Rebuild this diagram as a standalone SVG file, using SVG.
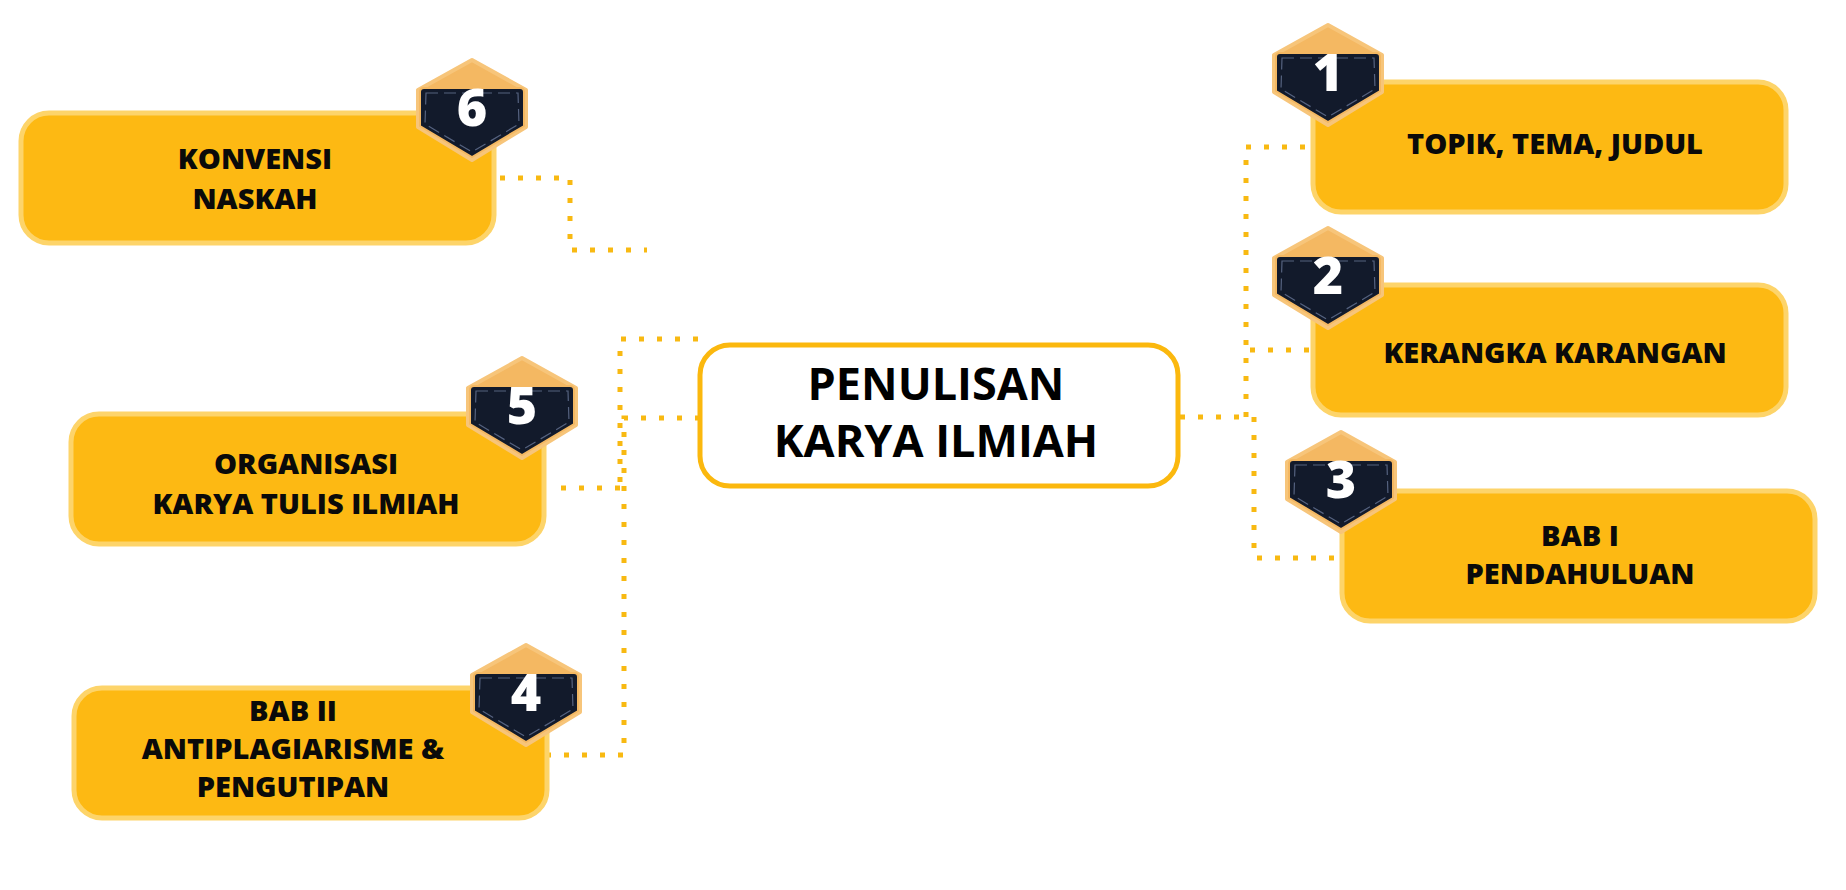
<svg xmlns="http://www.w3.org/2000/svg" width="1846" height="890" viewBox="0 0 1846 890">
<style>
.box{fill:#FDB913;stroke:#FDD46A;stroke-width:5}
.center{fill:#FFFFFF;stroke:#FBB80E;stroke-width:5}
.lbl{font-family:"Open Sans","Liberation Sans",sans-serif;font-weight:800;font-size:29px;fill:#0A0A0A;text-anchor:middle}
.ctr{font-family:"Open Sans","Liberation Sans",sans-serif;font-weight:700;font-size:45px;fill:#000;text-anchor:middle}
.num{font-family:"Open Sans","Liberation Sans",sans-serif;font-weight:800;font-size:52px;fill:#FFFFFF;text-anchor:middle}
.dot{fill:none;stroke:#F8B912;stroke-width:5;stroke-dasharray:5 13}
.hexo{fill:#F4B862;stroke:#F7C57A;stroke-width:4;stroke-linejoin:round}
.hexd{fill:#121A2B;stroke:#F4B862;stroke-width:2;stroke-linejoin:round}
.stitch{fill:none;stroke:#55627F;stroke-width:1.2;stroke-dasharray:12 6}
</style>
<defs>
<g id="badge">
<path class="hexo" d="M0,0 L54,30 L54,67 L0,100 L-54,67 L-54,30 Z"/>
<path class="hexd" d="M-48,28 L48,28 Q52,28 52,32 L52,66 L0,97 L-52,66 L-52,32 Q-52,28 -48,28 Z"/>
<path class="stitch" d="M-46,33 L46,33 L47,64 L0,92 L-47,64 Z"/>
</g>
</defs>
<rect width="1846" height="890" fill="#FFFFFF"/>
<g id="connectors">
<path class="dot" d="M1180,417 L1250,417"/>
<path class="dot" d="M1246,417 L1246,147 L1310,147"/>
<path class="dot" d="M1250,350 L1313,350"/>
<path class="dot" d="M1254,417 L1254,558 L1340,558"/>
<path class="dot" d="M698,339 L620,339 L620,488"/>
<path class="dot" d="M700,418 L624,418 L624,755 L548,755"/>
<path class="dot" d="M620,488 L548,488"/>
<path class="dot" d="M500,178 L570,178 L570,250 L647,250"/>
</g>
<g id="center">
<rect class="center" x="700" y="345" width="478" height="141" rx="30"/>
<text class="ctr" x="936" y="400">PENULISAN</text>
<text class="ctr" x="936" y="457">KARYA ILMIAH</text>
</g>
<g id="node1">
<rect class="box" x="1313" y="82" width="473" height="130" rx="28"/>
<use href="#badge" x="1328" y="25"/>
<text class="num" x="1328" y="91">1</text>
<text class="lbl" x="1555" y="154">TOPIK, TEMA, JUDUL</text>
</g>
<g id="node2">
<rect class="box" x="1313" y="285" width="473" height="130" rx="28"/>
<use href="#badge" x="1328" y="228"/>
<text class="num" x="1328" y="294">2</text>
<text class="lbl" x="1555" y="363">KERANGKA KARANGAN</text>
</g>
<g id="node3">
<rect class="box" x="1342" y="491" width="473" height="130" rx="28"/>
<use href="#badge" x="1341" y="432"/>
<text class="num" x="1341" y="498">3</text>
<text class="lbl" x="1580" y="546">BAB I</text>
<text class="lbl" x="1580" y="584">PENDAHULUAN</text>
</g>
<g id="node4">
<rect class="box" x="74" y="688" width="473" height="130" rx="28"/>
<use href="#badge" x="526" y="645"/>
<text class="num" x="526" y="711">4</text>
<text class="lbl" x="293" y="721">BAB II</text>
<text class="lbl" x="293" y="759">ANTIPLAGIARISME &amp;</text>
<text class="lbl" x="293" y="797">PENGUTIPAN</text>
</g>
<g id="node5">
<rect class="box" x="71" y="414" width="473" height="130" rx="28"/>
<use href="#badge" x="522" y="358"/>
<text class="num" x="522" y="424">5</text>
<text class="lbl" x="306" y="474">ORGANISASI</text>
<text class="lbl" x="306" y="514">KARYA TULIS ILMIAH</text>
</g>
<g id="node6">
<rect class="box" x="21" y="113" width="473" height="130" rx="28"/>
<use href="#badge" x="472" y="60"/>
<text class="num" x="472" y="126">6</text>
<text class="lbl" x="255" y="169">KONVENSI</text>
<text class="lbl" x="255" y="209">NASKAH</text>
</g>
</svg>
